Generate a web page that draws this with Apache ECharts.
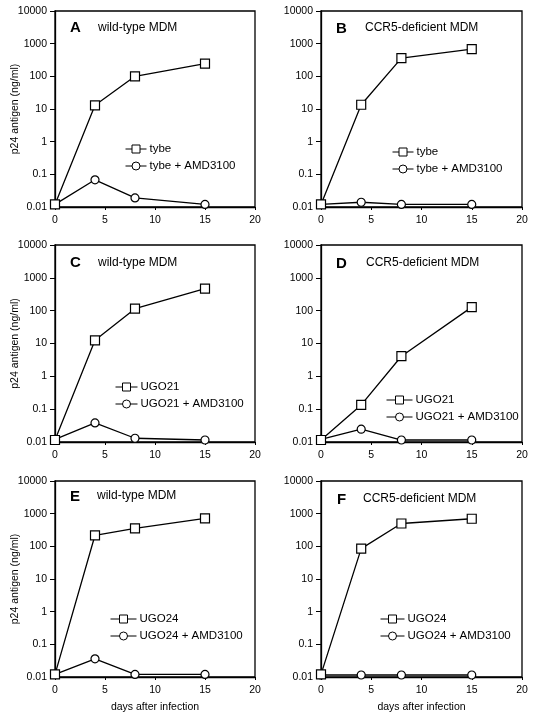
<!DOCTYPE html>
<html>
<head>
<meta charset="utf-8">
<script src="https://cdn.jsdelivr.net/npm/echarts@6/dist/echarts.min.js"></script>
<style>
html,body{margin:0;padding:0;background:#fff;}
#c{width:538px;height:728px;}
</style>
</head>
<body>
<div id="c"></div>
<script>
// ---- data ----
var days = [0, 4, 8, 15];
var xTicks = [0, 5, 10, 15, 20];
var yTicks = [0.01, 0.1, 1, 10, 100, 1000, 10000];
var panelLetters = ['A', 'B', 'C', 'D', 'E', 'F'];
var panelTitles = ['wild-type MDM', 'CCR5-deficient MDM', 'wild-type MDM', 'CCR5-deficient MDM', 'wild-type MDM', 'CCR5-deficient MDM'];
var virusNames = ['tybe', 'tybe', 'UGO21', 'UGO21', 'UGO24', 'UGO24'];
var amdSuffix = ' + AMD3100';
var A_virus = [0.012, 13, 100, 245];
var A_amd = [0.012, 0.068, 0.019, 0.012];
var B_virus = [0.012, 13.5, 360, 680];
var B_amd = [0.012, 0.014, 0.012, 0.012];
var C_virus = [0.0115, 12.5, 115, 470];
var C_amd = [0.012, 0.038, 0.013, 0.0115];
var D_virus = [0.0115, 0.135, 4.1, 128];
var D_amd = [0.012, 0.0245, 0.0115, 0.0115];
var E_virus = [0.012, 218, 355, 720];
var E_amd = [0.012, 0.036, 0.012, 0.012];
var F_virus = [0.012, 85, 500, 700];
var F_amd = [0.0115, 0.0115, 0.0115, 0.0115];
var xAxisName = 'days after infection';
var yAxisName = 'p24 antigen (ng/ml)';

var virusData = [A_virus, B_virus, C_virus, D_virus, E_virus, F_virus];
var amdData = [A_amd, B_amd, C_amd, D_amd, E_amd, F_amd];

// ---- layout ----
var FONT = '"Liberation Sans", Arial, sans-serif';
var grids = [
  {left: 55, top: 11, width: 200, height: 196},
  {left: 321, top: 11, width: 201, height: 196},
  {left: 55, top: 245, width: 200, height: 197},
  {left: 321, top: 245, width: 201, height: 197},
  {left: 55, top: 481, width: 200, height: 196},
  {left: 321, top: 481, width: 201, height: 196}
];
var legendPos = [
  {left: 120, top: 138, w: 21},
  {left: 387, top: 141, w: 21},
  {left: 110, top: 376, w: 22},
  {left: 381, top: 389, w: 26},
  {left: 105, top: 608, w: 26},
  {left: 375, top: 608, w: 24}
];
var titlePos = [
  {lx: 70, ly: 28, tx: 98, ty: 29},
  {lx: 336, ly: 29, tx: 365, ty: 29},
  {lx: 70, ly: 263, tx: 98, ty: 264},
  {lx: 336, ly: 264, tx: 366, ty: 264},
  {lx: 70, ly: 497, tx: 97, ty: 497},
  {lx: 337, ly: 500, tx: 363, ty: 500}
];

var option = {
  backgroundColor: '#fff',
  animation: false,
  grid: [], xAxis: [], yAxis: [], series: [], legend: [], graphic: []
};

function fmt(v) { return String(Number(Number(v).toPrecision(6))); }

for (var i = 0; i < 6; i++) {
  var g = grids[i];
  option.grid.push({left: g.left, top: g.top, width: g.width, height: g.height,
    show: true, borderColor: '#000', borderWidth: 1.3, backgroundColor: '#fff'});
  var isBottom = i >= 4, isLeft = (i % 2 === 0);
  option.xAxis.push({
    type: 'value', gridIndex: i, min: xTicks[0], max: xTicks[xTicks.length - 1], interval: 5,
    axisLine: {show: true, onZero: false, lineStyle: {color: '#000', width: 1.3}},
    axisTick: {show: true, inside: false, length: 3, lineStyle: {color: '#000'}},
    axisLabel: {color: '#000', fontSize: 10.5, fontFamily: FONT, margin: 8},
    splitLine: {show: false},
    name: isBottom ? xAxisName : '', nameLocation: 'middle', nameGap: 25,
    nameMoveOverlap: false,
    nameTextStyle: {color: '#000', fontSize: 10.5, fontFamily: FONT}
  });
  option.yAxis.push({
    type: 'log', logBase: 10, gridIndex: i, min: yTicks[0], max: yTicks[yTicks.length - 1],
    axisLine: {show: true, lineStyle: {color: '#000', width: 1.3}},
    axisTick: {show: true, inside: false, length: 5, lineStyle: {color: '#000'}},
    minorTick: {show: false},
    axisLabel: {color: '#000', fontSize: 10.5, fontFamily: FONT, margin: 8, formatter: fmt},
    splitLine: {show: false},
    name: isLeft ? yAxisName : '', nameLocation: 'middle', nameGap: 34,
    nameMoveOverlap: false,
    nameTextStyle: {color: '#000', fontSize: 10.5, fontFamily: FONT}
  });
  var vName = virusNames[i], aName = virusNames[i] + amdSuffix;
  option.series.push({
    type: 'line', name: vName, xAxisIndex: i, yAxisIndex: i,
    data: days.map(function (d, k) { return [d, virusData[i][k]]; }),
    symbol: 'rect', symbolSize: 9, clip: false, z: 3,
    lineStyle: {color: '#000', width: 1.3},
    itemStyle: {color: '#fff', borderColor: '#000', borderWidth: 1.2}
  });
  option.series.push({
    type: 'line', name: aName, xAxisIndex: i, yAxisIndex: i,
    data: days.map(function (d, k) { return [d, amdData[i][k]]; }),
    symbol: 'circle', symbolSize: 8, clip: false, z: 2,
    lineStyle: {color: '#000', width: 1.3},
    itemStyle: {color: '#fff', borderColor: '#000', borderWidth: 1.2}
  });
  var lp = legendPos[i];
  option.legend.push({
    left: lp.left, top: lp.top, orient: 'vertical', itemGap: 5,
    itemWidth: lp.w, itemHeight: 10, selectedMode: false,
    data: [vName, aName],
    lineStyle: {width: 1, color: '#000'},
    itemStyle: {color: '#fff', borderColor: '#000', borderWidth: 1},
    textStyle: {color: '#000', fontSize: 11.5, fontFamily: FONT, padding: [0, 0, 0, -2]}
  });
  var tp = titlePos[i];
  option.graphic.push({
    type: 'text', left: tp.lx, top: tp.ly - 8,
    style: {text: panelLetters[i], fill: '#000', font: 'bold 15px ' + FONT}
  });
  option.graphic.push({
    type: 'text', left: tp.tx, top: tp.ty - 7,
    style: {text: panelTitles[i], fill: '#000', font: '12px ' + FONT}
  });
}

var chart = echarts.init(document.getElementById('c'), null, {renderer: 'canvas'});
chart.setOption(option);
</script>
</body>
</html>
